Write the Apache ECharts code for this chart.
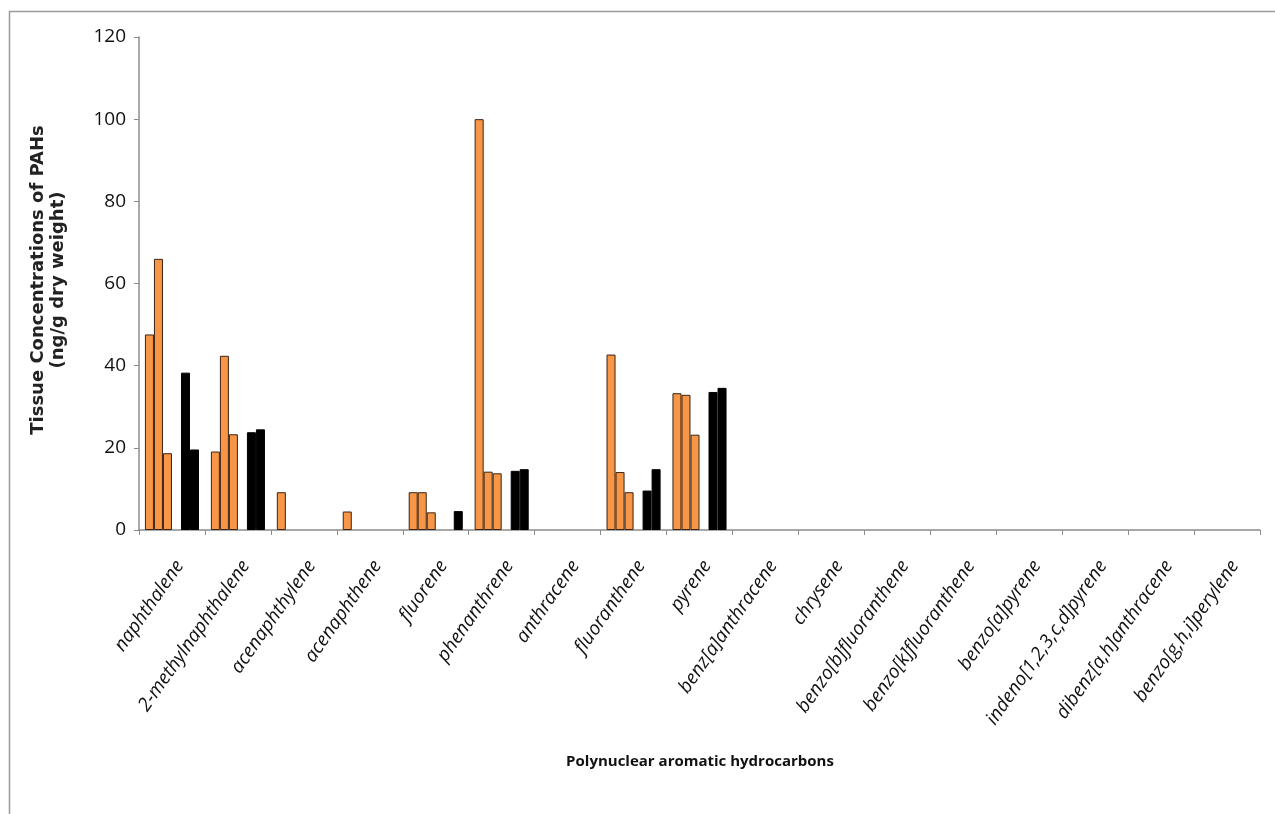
<!DOCTYPE html>
<html>
<head>
<meta charset="utf-8">
<title>Tissue Concentrations of PAHs</title>
<script src="https://cdn.jsdelivr.net/npm/echarts@6/dist/echarts.min.js"></script>
<style>
html,body{margin:0;padding:0;background:#fff;}
#chart{width:1275px;height:814px;}
</style>
</head>
<body>
<div id="chart"></div>
<script>
var categories=['naphthalene','2-methylnaphthalene','acenaphthylene','acenaphthene','fluorene','phenanthrene','anthracene','fluoranthene','pyrene','benz[a]anthracene','chrysene','benzo[b]fluoranthene','benzo[k]fluoranthene','benzo[a]pyrene','indeno[1,2,3,c,d]pyrene','dibenz[a,h]anthracene','benzo[g,h,i]perylene'];
// orange series (null = no bar drawn)
var orange1=[47.6,19.1,9.2,4.5,9.2,100,null,42.7,33.3,null,null,null,null,null,null,null,null];
var orange2=[66.0,42.4,null,null,9.2,14.2,null,14.1,32.9,null,null,null,null,null,null,null,null];
var orange3=[18.7,23.3,null,null,4.3,13.8,null,9.2,23.2,null,null,null,null,null,null,null,null];
// empty slot between the groups
var blank=[null,null,null,null,null,null,null,null,null,null,null,null,null,null,null,null,null];
// black series
var black1=[38.3,23.8,null,null,null,14.4,null,9.6,33.6,null,null,null,null,null,null,null,null];
var black2=[19.6,24.5,null,null,4.6,14.8,null,14.8,34.6,null,null,null,null,null,null,null,null];

var yTicks=[0,20,40,60,80,100,120];

var chart=echarts.init(document.getElementById('chart'));

function orangeBar(name,data){
	return {name:name,type:'bar',data:data,barGap:'0%',barCategoryGap:'18%',
		itemStyle:{color:'#F79646',borderColor:'#3b2314',borderWidth:1}};
}
function blackBar(name,data){
	return {name:name,type:'bar',data:data,barGap:'0%',barCategoryGap:'18%',
		itemStyle:{color:'#000',borderColor:'#000',borderWidth:1}};
}

var option={
	animation:false,
	backgroundColor:'#fff',
	grid:{left:139,right:15,top:37,bottom:284},
	graphic:[
		{type:'rect',left:7,top:9,shape:{width:1300,height:900},
			style:{fill:'none',stroke:'#9a9a9a',lineWidth:1.5},silent:true},
		{type:'text',x:48,y:280,rotation:Math.PI/2,
			style:{text:'Tissue Concentrations of PAHs\n(ng/g dry weight)',align:'center',verticalAlign:'middle',
				font:'bold 18px "DejaVu Sans"',lineHeight:20,fill:'#222'}},
		{type:'text',x:700,y:762,
			style:{text:'Polynuclear aromatic hydrocarbons',align:'center',verticalAlign:'middle',
				font:'bold 15px "Open Sans"',fill:'#111'}}
	],
	xAxis:{
		type:'category',data:categories,
		axisLine:{lineStyle:{color:'#8c8c8c',width:1.5}},
		axisTick:{show:true,length:5,lineStyle:{color:'#8c8c8c'}},
		axisLabel:{rotate:55,interval:0,margin:27,align:'right',verticalAlign:'top',
			fontStyle:'italic',fontFamily:'Open Sans',fontSize:19,color:'#111'}
	},
	yAxis:{
		type:'value',min:yTicks[0],max:yTicks[yTicks.length-1],interval:20,
		splitLine:{show:false},
		axisLine:{show:true,lineStyle:{color:'#8c8c8c',width:1.5}},
		axisTick:{show:true,length:5,lineStyle:{color:'#8c8c8c'}},
		axisLabel:{fontFamily:'Open Sans',fontSize:19,color:'#111',margin:13}
	},
	series:[
		orangeBar('Series 1',orange1),
		orangeBar('Series 2',orange2),
		orangeBar('Series 3',orange3),
		{name:'Series 4',type:'bar',data:blank,barGap:'0%',barCategoryGap:'18%',itemStyle:{color:'#fff'}},
		blackBar('Series 5',black1),
		blackBar('Series 6',black2)
	]
};
chart.setOption(option);
</script>
</body>
</html>
